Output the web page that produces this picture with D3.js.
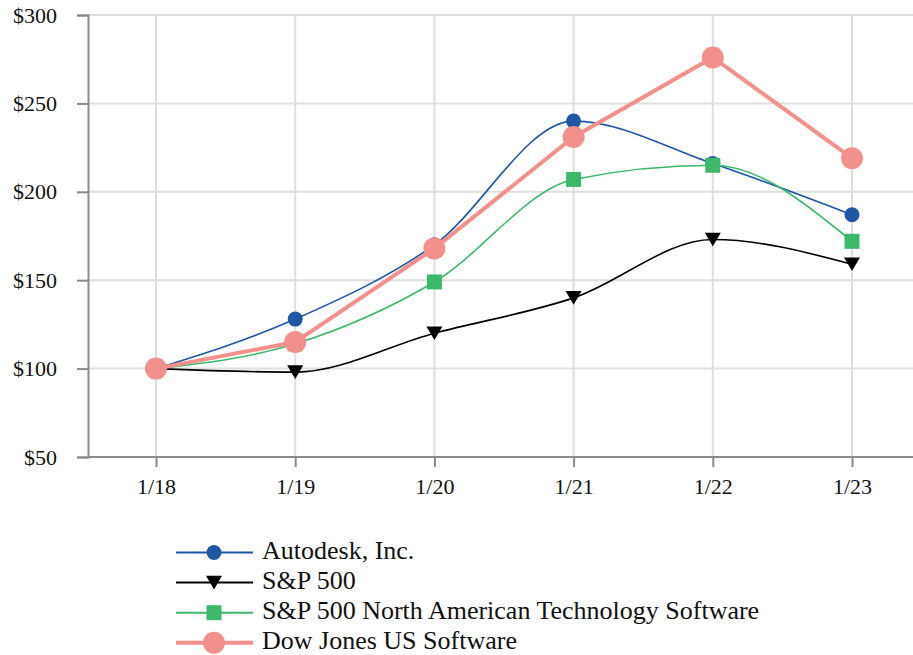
<!DOCTYPE html>
<html><head><meta charset="utf-8">
<script src="https://cdn.jsdelivr.net/npm/d3@7"></script>
<style>body{margin:0;background:#fff}svg{display:block}
svg text{font-family:"Liberation Serif","Times New Roman",Times,"DejaVu Serif",serif !important;}</style>
</head><body>
<svg id="c" width="913" height="655"></svg>
<script>
const categories = ["1/18","1/19","1/20","1/21","1/22","1/23"];
const autodesk = [100,128,170,240,216,187];
const sp500 = [100,98,120,140,173,159];
const spTech = [100,114,149,207,215,172];
const dowJones = [100,115,168,231,276,219];
const yTicks = [50,100,150,200,250,300];
const seriesNames = ["Autodesk, Inc.","S&P 500","S&P 500 North American Technology Software","Dow Jones US Software"];

const svg = d3.select("#c");
const x = d3.scalePoint().domain(categories).range([156,852]);
const y = d3.scaleLinear().domain([50,300]).range([457,15]);

// grid
svg.append("g").selectAll("line").data(yTicks.slice(1)).join("line")
  .attr("x1",88).attr("x2",913).attr("y1",d=>y(d)).attr("y2",d=>y(d))
  .attr("stroke","#dedede").attr("stroke-width",2);
svg.append("g").selectAll("line").data(categories).join("line")
  .attr("x1",d=>x(d)).attr("x2",d=>x(d)).attr("y1",15).attr("y2",457)
  .attr("stroke","#dedede").attr("stroke-width",2);

// axes
const yAxis = svg.append("g").attr("transform","translate(88,0)")
  .call(d3.axisLeft(y).tickValues(yTicks).tickSize(11).tickPadding(20).tickFormat(d=>"$"+d));
const xAxis = svg.append("g").attr("transform","translate(0,457)")
  .call(d3.axisBottom(x).tickSize(10).tickPadding(11));
xAxis.select(".domain").attr("d","M88,0H913");
[yAxis,xAxis].forEach(a=>{
  a.attr("font-family",null).attr("font-size",22);
  a.select(".domain").attr("stroke","#8a8a8a").attr("stroke-width",2);
  a.selectAll(".tick line").attr("stroke","#8a8a8a").attr("stroke-width",2);
  a.selectAll("text").attr("fill","#111");
});

const series = [
  {name:seriesNames[0], vals:autodesk, color:"#1f56a6", w:1.6, curve:d3.curveMonotoneX, marker:"circle", size:7.5},
  {name:seriesNames[1], vals:sp500, color:"#000000", w:1.6, curve:d3.curveMonotoneX, marker:"tri", size:8},
  {name:seriesNames[2], vals:spTech, color:"#3db86b", w:1.6, curve:d3.curveMonotoneX, marker:"square", size:7.5},
  {name:seriesNames[3], vals:dowJones, color:"#f2908b", w:4, curve:d3.curveLinear, marker:"circle", size:11}
];

function drawMarker(g, s, cx, cy){
  if(s.marker==="circle"){
    g.append("circle").attr("cx",cx).attr("cy",cy).attr("r",s.size).attr("fill",s.color);
  } else if(s.marker==="square"){
    g.append("rect").attr("x",cx-s.size).attr("y",cy-s.size).attr("width",2*s.size).attr("height",2*s.size).attr("fill",s.color);
  } else {
    const r=s.size;
    g.append("path").attr("d",`M${cx-r},${cy-r*0.85}L${cx+r},${cy-r*0.85}L${cx},${cy+r*0.85}Z`).attr("fill",s.color);
  }
}

series.forEach(s=>{
  const g = svg.append("g");
  const line = d3.line().x((d,i)=>x(categories[i])).y(d=>y(d)).curve(s.curve);
  g.append("path").attr("d",line(s.vals)).attr("fill","none").attr("stroke",s.color).attr("stroke-width",s.w);
  s.vals.forEach((v,i)=>drawMarker(g,s,x(categories[i]),y(v)));
});

// legend
const lg = svg.append("g");
series.forEach((s,i)=>{
  const ly = 552.5 + i*30.1;
  lg.append("line").attr("x1",176).attr("x2",253).attr("y1",ly).attr("y2",ly)
    .attr("stroke",s.color).attr("stroke-width",s.w===4?4:2);
  drawMarker(lg,s,214,ly);
  lg.append("text").attr("x",262).attr("y",ly+6).attr("font-size",26)
    .attr("fill","#111").text(s.name);
});
</script>
</body></html>
